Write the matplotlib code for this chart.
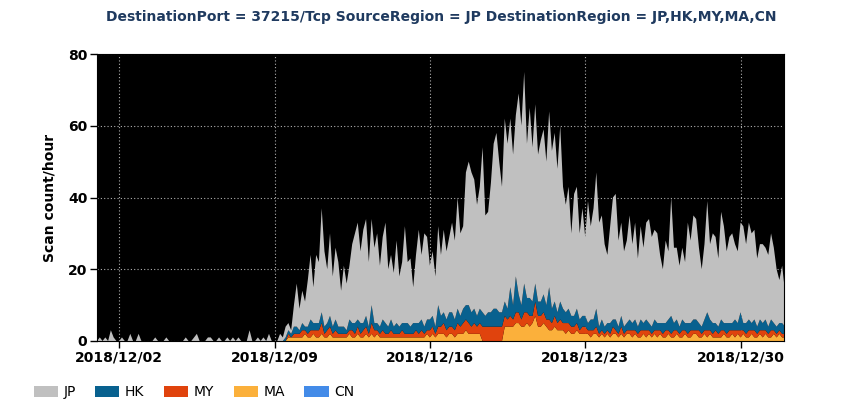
import matplotlib
matplotlib.use("Agg")
import matplotlib.pyplot as plt
import matplotlib.dates as mdates
import pandas as pd

# scan counts per 3 hours, starting 2018-12-01 00:00 (one line per day)
jp = [
    0, 1, 0, 1, 0, 3, 1, 0,
    0, 1, 0, 0, 2, 0, 0, 2,
    0, 0, 0, 0, 0, 1, 0, 0,
    0, 1, 0, 0, 0, 0, 0, 0,
    1, 0, 0, 1, 2, 0, 0, 0,
    1, 1, 0, 0, 1, 0, 0, 1,
    0, 1, 0, 1, 0, 0, 0, 3,
    0, 0, 1, 0, 1, 0, 2, 0,
    0, 0, 2, 1, 3, 2, 1, 6,
    12, 6, 9, 7, 13, 18, 10, 19,
    17, 29, 21, 15, 23, 14, 20, 18,
    10, 17, 13, 15, 22, 25, 27, 20,
    26, 27, 18, 24, 21, 25, 17, 23,
    28, 16, 18, 15, 23, 14, 17, 27,
    17, 19, 10, 19, 26, 18, 26, 23,
    15, 18, 14, 22, 17, 23, 19, 21,
    25, 22, 31, 23, 23, 37, 40, 39,
    36, 31, 34, 46, 28, 28, 36, 46,
    49, 42, 35, 51, 46, 47, 42, 45,
    56, 50, 59, 43, 53, 43, 50, 41,
    45, 46, 40, 49, 44, 47, 40, 49,
    34, 30, 34, 23, 34, 34, 24, 30,
    22, 34, 26, 31, 38, 29, 29, 23,
    19, 27, 34, 35, 24, 26, 21, 23,
    29, 22, 27, 19, 26, 21, 27, 29,
    25, 25, 25, 19, 15, 23, 19, 33,
    21, 20, 17, 20, 17, 28, 23, 29,
    28, 21, 16, 21, 31, 21, 25, 24,
    19, 30, 27, 20, 24, 25, 21, 20,
    25, 27, 22, 27, 25, 25, 19, 21,
    22, 20, 20, 24, 21, 16, 12, 16, 10,
]
hk = [0] * 64 + [
    0, 0, 0, 0, 1, 1, 1, 2,
    2, 1, 2, 1, 2, 3, 2, 2,
    2, 3, 2, 2, 3, 2, 3, 2,
    2, 2, 1, 3, 2, 3, 2, 3,
    2, 3, 2, 5, 2, 2, 2, 3,
    3, 2, 3, 2, 3, 2, 2, 3,
    3, 2, 3, 2, 3, 3, 2, 3,
    3, 3, 2, 6, 3, 3, 3, 4,
    4, 3, 4, 3, 4, 4, 5, 4,
    4, 3, 4, 4, 3, 4, 4, 5,
    5, 4, 4, 4, 3, 8, 4, 10,
    5, 4, 8, 4, 5, 4, 5, 4,
    4, 5, 4, 9, 4, 4, 3, 5,
    4, 3, 4, 3, 3, 4, 3, 3,
    3, 2, 3, 3, 5, 2, 3, 2,
    2, 3, 2, 3, 2, 3, 2, 2,
    3, 2, 3, 2, 3, 2, 3, 2,
    2, 3, 2, 2, 3, 2, 3, 5,
    2, 3, 2, 3, 2, 3, 2, 3,
    3, 2, 2, 3, 5, 3, 3, 2,
    2, 3, 2, 3, 2, 2, 3, 2,
    5, 2, 3, 3, 2, 3, 2, 3,
    2, 3, 2, 3, 2, 2, 2, 3, 2,
]
my = [0] * 64 + [
    0, 0, 0, 0, 0, 1, 0, 1,
    1, 1, 2, 1, 1, 2, 1, 2,
    2, 3, 1, 2, 2, 1, 2, 1,
    1, 1, 1, 1, 2, 1, 2, 1,
    2, 2, 1, 3, 2, 1, 1, 2,
    1, 1, 2, 1, 1, 1, 2, 1,
    1, 1, 1, 2, 1, 2, 1, 1,
    2, 2, 1, 2, 2, 3, 2, 2,
    2, 2, 3, 2, 3, 3, 3, 2,
    3, 2, 3, 4, 4, 4, 4, 4,
    4, 4, 4, 3, 2, 3, 2, 3,
    3, 2, 4, 3, 3, 2, 4, 3,
    3, 3, 2, 3, 2, 3, 2, 3,
    2, 3, 2, 2, 2, 2, 1, 2,
    2, 1, 2, 1, 2, 1, 1, 1,
    1, 1, 2, 1, 1, 2, 1, 1,
    1, 2, 1, 1, 2, 1, 2, 1,
    1, 1, 2, 1, 1, 2, 1, 1,
    2, 1, 1, 2, 1, 1, 2, 1,
    1, 2, 1, 1, 2, 1, 1, 2,
    1, 2, 1, 1, 2, 1, 2, 1,
    2, 1, 1, 2, 1, 2, 1, 1,
    2, 1, 1, 2, 1, 1, 1, 1, 1,
]
ma = [0] * 64 + [
    0, 0, 0, 0, 0, 1, 1, 1,
    1, 1, 1, 2, 1, 1, 2, 1,
    1, 2, 1, 1, 2, 1, 1, 1,
    1, 1, 1, 2, 1, 1, 2, 1,
    1, 2, 1, 2, 1, 2, 1, 1,
    1, 1, 1, 1, 1, 1, 1, 1,
    1, 1, 1, 1, 1, 1, 1, 2,
    1, 2, 1, 2, 2, 2, 1, 2,
    2, 1, 2, 2, 2, 3, 2, 2,
    2, 2, 2, 0, 0, 0, 0, 0,
    0, 0, 0, 4, 4, 4, 4, 5,
    5, 4, 4, 5, 4, 5, 7, 4,
    4, 5, 4, 3, 3, 4, 3, 3,
    3, 2, 3, 2, 2, 3, 2, 2,
    2, 2, 1, 2, 2, 1, 2, 1,
    2, 1, 2, 2, 1, 2, 1, 2,
    2, 1, 2, 1, 1, 2, 1, 2,
    1, 2, 1, 2, 1, 1, 2, 1,
    1, 2, 1, 1, 2, 1, 1, 2,
    2, 1, 1, 2, 1, 2, 1, 1,
    1, 1, 2, 1, 1, 2, 1, 2,
    1, 2, 1, 1, 2, 1, 1, 2,
    1, 2, 1, 1, 2, 1, 2, 1, 1,
]
cn = [0] * len(jp)

labels = ["JP", "HK", "MY", "MA", "CN"]
colors = ["#c0c0c0", "#08618f", "#e0430d", "#fbb03b", "#438be8"]
tick_days = ["2018-12-02", "2018-12-09", "2018-12-16", "2018-12-23", "2018-12-30"]

times = pd.date_range("2018-12-01 00:00", periods=len(jp), freq="3h")

fig = plt.figure(figsize=(8.5, 4.2), dpi=100)
ax = fig.add_axes([97 / 850, 79 / 420, 687 / 850, 287 / 420])
ax.set_facecolor("black")

# stacked bottom-up: CN, MA, MY, HK, JP
polys = ax.stackplot(times, cn, ma, my, hk, jp,
                     colors=[colors[4], colors[3], colors[2], colors[1], colors[0]],
                     linewidth=0)

ax.set_xlim(pd.Timestamp("2018-12-01 00:00"), pd.Timestamp("2018-12-31 23:00"))
ax.set_ylim(0, 80)
ax.set_yticks([0, 20, 40, 60, 80])
ax.set_xticks(pd.to_datetime(tick_days))
ax.xaxis.set_major_formatter(mdates.DateFormatter("%Y/%m/%d"))
ax.grid(True, color="#b0b0b0", linestyle=(0, (1, 2)), linewidth=0.8)
ax.set_axisbelow(True)
ax.tick_params(length=5, width=1, labelsize=10, pad=2)
for lab in ax.get_xticklabels() + ax.get_yticklabels():
    lab.set_fontweight("bold")
for s in ax.spines.values():
    s.set_color("black")

ax.set_ylabel("Scan count/hour", fontsize=10, fontweight="bold", labelpad=8)
fig.text(441 / 850, 1 - 17 / 420,
         "DestinationPort = 37215/Tcp SourceRegion = JP DestinationRegion = JP,HK,MY,MA,CN",
         ha="center", va="center", fontsize=10, fontweight="bold", color="#1f3a5f")

handles = [polys[4], polys[3], polys[2], polys[1], polys[0]]
fig.legend(handles, labels, loc="center left", bbox_to_anchor=(21 / 850, 1 - 392 / 420),
           ncol=5, frameon=False, fontsize=10, handlelength=1.75, handleheight=0.85,
           handletextpad=0.4, columnspacing=1.4)

fig.savefig("out.png", dpi=100)
